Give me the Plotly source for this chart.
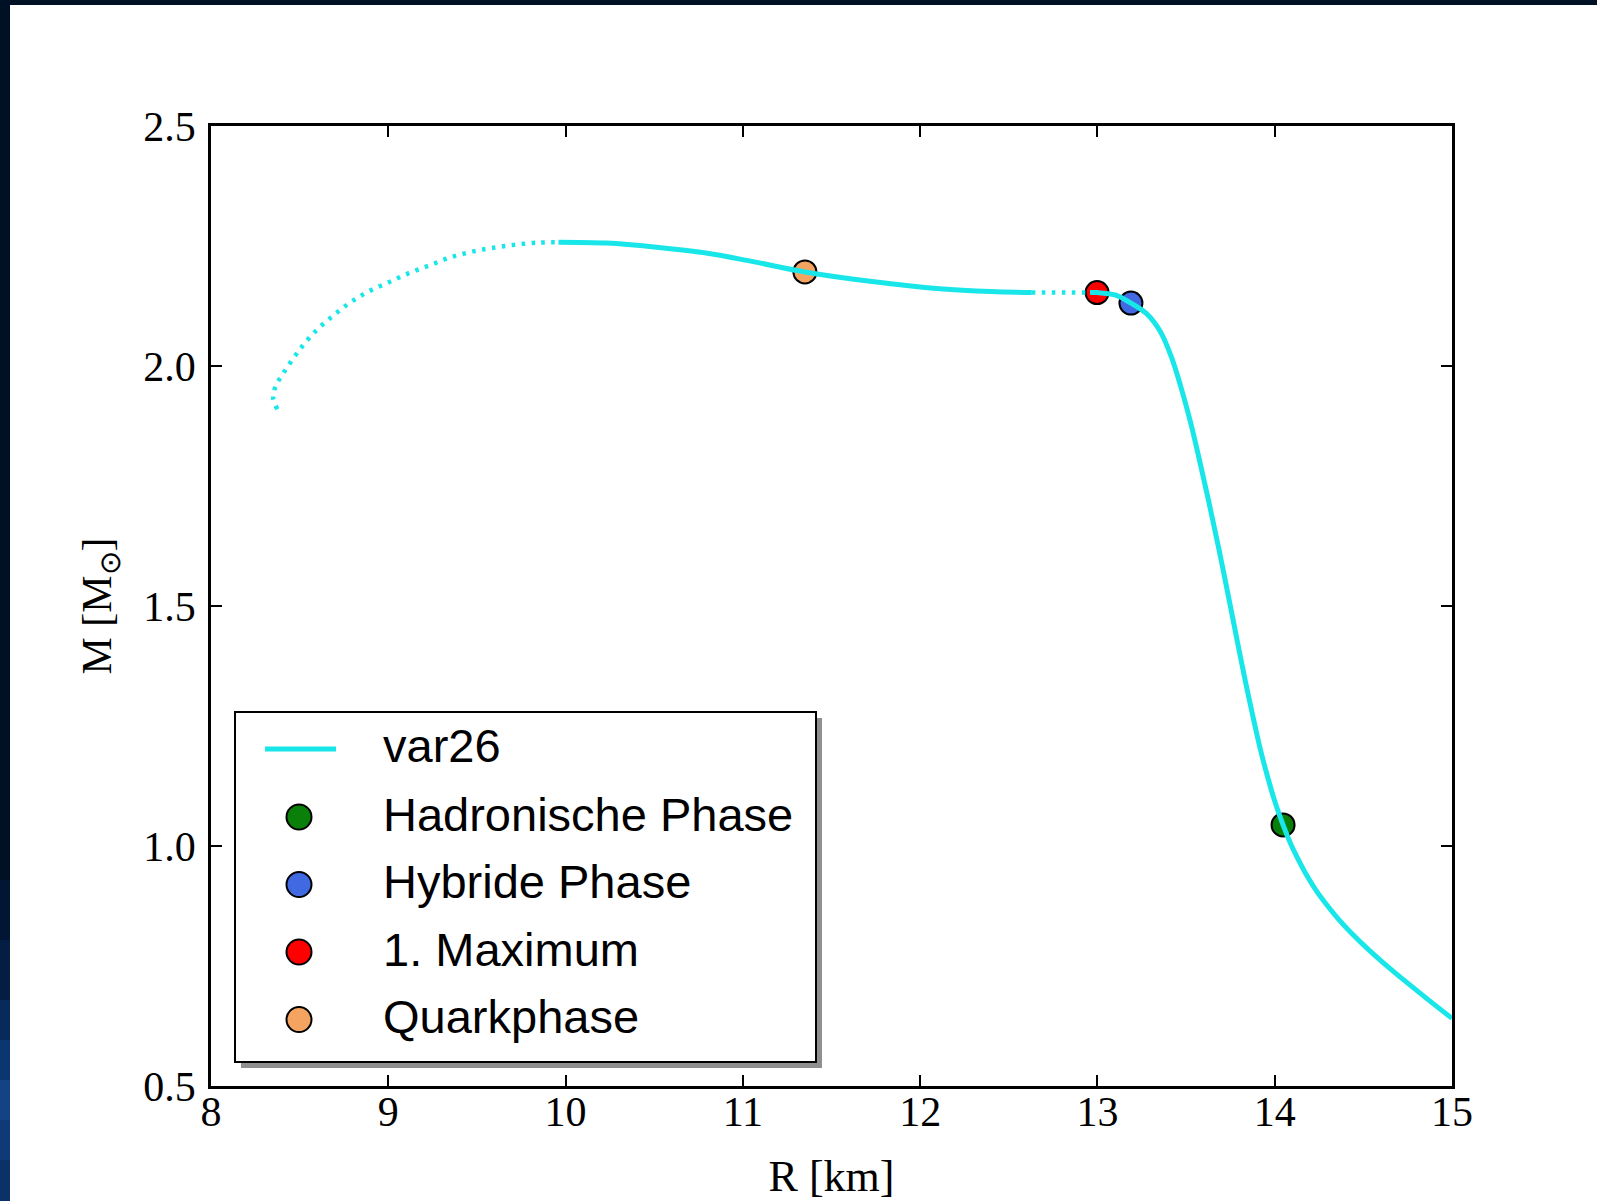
import plotly.graph_objects as go

# ---- mass-radius relation of the EOS "var26" ----
# unstable branch beyond the maximum (dotted)
r_unstable = [8.374, 8.350, 8.365, 8.408, 8.502, 8.596, 8.690, 8.784, 8.887, 9.000,
              9.113, 9.235, 9.348, 9.470, 9.602, 9.724, 9.846, 9.960]
m_unstable = [1.910, 1.935, 1.958, 1.985, 2.035, 2.075, 2.105, 2.132, 2.155, 2.174,
              2.193, 2.210, 2.226, 2.238, 2.247, 2.253, 2.257, 2.258]

# quark-matter branch (solid)
r_quark = [9.96, 10.23, 10.50, 10.80, 11.05, 11.35, 11.73, 12.11, 12.40, 12.63]
m_quark = [2.258, 2.256, 2.248, 2.235, 2.218, 2.196, 2.176, 2.161, 2.155, 2.153]

# unstable gap between the two branches (dotted)
r_gap = [12.63, 12.80, 12.97]
m_gap = [2.153, 2.153, 2.153]

# hadronic / hybrid branch (solid)
r_hadronic = [12.958, 12.998, 13.099, 13.189, 13.274, 13.353, 13.415, 13.471, 13.525,
              13.573, 13.626, 13.686, 13.755, 13.799, 13.857, 13.920, 13.957, 13.998,
              14.047, 14.086, 14.126, 14.182, 14.238, 14.301, 14.368, 14.442, 14.526,
              14.611, 14.724, 14.865, 15.0]
m_hadronic = [2.153, 2.153, 2.148, 2.131, 2.110, 2.073, 2.021, 1.956, 1.883,
              1.808, 1.721, 1.617, 1.490, 1.408, 1.304, 1.200, 1.148, 1.096,
              1.044, 1.008, 0.977, 0.938, 0.905, 0.874, 0.844, 0.815, 0.785,
              0.757, 0.722, 0.680, 0.641]

# marked stars
point_names = ["Hadronische Phase", "Hybride Phase", "1. Maximum", "Quarkphase"]
point_r = [14.047, 13.189, 12.998, 11.35]
point_m = [1.044, 2.131, 2.153, 2.196]
point_colors = ["#0a800a", "#4169e1", "#ff0000", "#f4a460"]

curve_name = "var26"
x_ticks = [8, 9, 10, 11, 12, 13, 14, 15]
y_ticks = [0.5, 1.0, 1.5, 2.0, 2.5]

CYAN = "#19e6e9"
FIG_W, FIG_H = 1597, 1201
ML, MR, MT, MB = 211, 145, 126, 115
PW, PH = FIG_W - ML - MR, FIG_H - MT - MB


def px(X):
    return (X - ML) / PW


def py(Y):
    return (FIG_H - MB - Y) / PH


fig = go.Figure()

# markers first so that the curve runs over them
for name, r, m, c in zip(point_names, point_r, point_m, point_colors):
    fig.add_trace(go.Scatter(x=[r], y=[m], mode="markers", name=name, showlegend=False,
                             marker=dict(size=23, color=c, line=dict(color="black", width=2))))

dotted = "3.5px,6.5px"
fig.add_trace(go.Scatter(x=r_unstable, y=m_unstable, mode="lines", showlegend=False,
                         line=dict(color=CYAN, width=4.5, dash=dotted, shape="spline")))
fig.add_trace(go.Scatter(x=r_quark, y=m_quark, mode="lines", showlegend=False,
                         line=dict(color=CYAN, width=5, shape="spline")))
fig.add_trace(go.Scatter(x=r_gap, y=m_gap, mode="lines", showlegend=False,
                         line=dict(color=CYAN, width=4.5, dash=dotted)))
fig.add_trace(go.Scatter(x=r_hadronic, y=m_hadronic, mode="lines", name=curve_name,
                         showlegend=False,
                         line=dict(color=CYAN, width=5, shape="spline", smoothing=1.0)))

serif = "Liberation Serif, Times New Roman, serif"
axis_common = dict(showline=True, linewidth=2.5, linecolor="black", mirror="ticks",
                   ticks="inside", ticklen=11, tickwidth=1.5, tickcolor="black",
                   showgrid=False, zeroline=False, automargin=False,
                   tickfont=dict(family=serif, size=42, color="black"))

fig.update_xaxes(range=[8, 15], tickvals=x_ticks, ticktext=[str(v) for v in x_ticks],
                 ticklabelstandoff=-13,
                 title=dict(text="R [km]", font=dict(family=serif, size=44, color="black"),
                            standoff=27),
                 **axis_common)
fig.update_yaxes(range=[0.5, 2.5], tickvals=y_ticks, ticktext=[f"{v:.1f}" for v in y_ticks],
                 ticklabelstandoff=4,
                 title=dict(text="M [M<sub>⊙</sub>]",
                            font=dict(family=serif, size=42, color="black"), standoff=19),
                 **axis_common)

shapes = []

# dark slide frame: top band and left strip with a blue glow toward the bottom
NAVY = "#001126"
shapes.append(dict(type="rect", xref="paper", yref="paper", x0=px(0), x1=px(FIG_W),
                   y0=py(5), y1=py(0), fillcolor=NAVY, line=dict(width=0), layer="above"))
strip_stops = [(0, 880, NAVY), (880, 940, "#021633"), (940, 1000, "#041d42"),
               (1000, 1040, "#082a5a"), (1040, 1080, "#0c3670"), (1080, 1120, "#134385"),
               (1120, 1160, "#0e3a78"), (1160, FIG_H, "#0a3168")]
for y0, y1, col in strip_stops:
    shapes.append(dict(type="rect", xref="paper", yref="paper", x0=px(0), x1=px(10),
                       y0=py(y1), y1=py(y0), fillcolor=col, line=dict(width=0), layer="above"))

# legend frame with drop shadow
LX0, LY0, LX1, LY1 = 235, 712, 816, 1062
shapes.append(dict(type="rect", xref="paper", yref="paper", x0=px(LX0 + 6), x1=px(LX1 + 6),
                   y0=py(LY1 + 6), y1=py(LY0 + 6), fillcolor="#8f8f8f",
                   line=dict(width=0), layer="above"))
shapes.append(dict(type="rect", xref="paper", yref="paper", x0=px(LX0), x1=px(LX1),
                   y0=py(LY1), y1=py(LY0), fillcolor="white",
                   line=dict(color="black", width=2), layer="above"))

# legend keys
row_y = [749, 817, 884.5, 952, 1019.5]
shapes.append(dict(type="line", xref="paper", yref="paper", x0=px(265), x1=px(336),
                   y0=py(row_y[0]), y1=py(row_y[0]), line=dict(color=CYAN, width=5),
                   layer="above"))
for yy, c in zip(row_y[1:], point_colors):
    shapes.append(dict(type="circle", xref="paper", yref="paper",
                       xsizemode="pixel", ysizemode="pixel",
                       xanchor=px(299), yanchor=py(yy), x0=-12.5, x1=12.5, y0=-12.5, y1=12.5,
                       fillcolor=c, line=dict(color="black", width=2), layer="above"))

annotations = []
for yy, label in zip(row_y, [curve_name] + point_names):
    annotations.append(dict(xref="paper", yref="paper", x=px(381), y=py(yy - 3),
                            xanchor="left", yanchor="middle", showarrow=False, text=label,
                            font=dict(family="Liberation Sans, Arial, sans-serif", size=47,
                                      color="black")))

fig.update_layout(width=FIG_W, height=FIG_H, autosize=False,
                  margin=dict(l=ML, r=MR, t=MT, b=MB, pad=0),
                  paper_bgcolor="white", plot_bgcolor="white",
                  shapes=shapes, annotations=annotations, showlegend=False)

fig.write_html("out.html")
